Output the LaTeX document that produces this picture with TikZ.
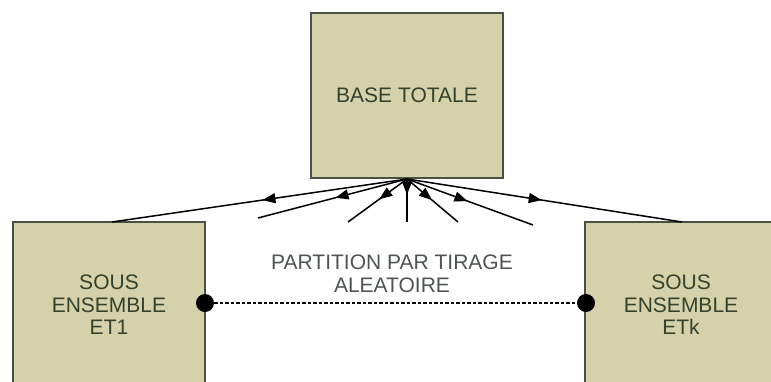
\documentclass[tikz,border=0pt]{standalone}
\usepackage{fontspec}
\setmainfont{Liberation Sans}
\usetikzlibrary{arrows.meta,decorations.markings}
\definecolor{boxfill}{RGB}{213,210,171}
\definecolor{boxline}{RGB}{75,80,68}
\definecolor{boxtext}{RGB}{52,66,44}
\definecolor{notetext}{RGB}{78,84,82}
\tikzset{
  setbox/.style={draw=boxline, line width=2pt, fill=boxfill, text=boxtext,
    align=center, font=\fontsize{21}{22.5}\selectfont, inner sep=0pt},
  fanline/.style={line width=1.5pt, postaction={decorate},
    decoration={markings, mark=at position #1 with {\arrow{Triangle[length=13pt,width=10pt]}}}},
  joint/.style={circle, fill=black, minimum size=18pt, inner sep=0pt},
  linkline/.style={line width=1.2pt, dash pattern=on 3.5pt off 2pt},
}
\begin{document}
\begin{tikzpicture}[x=1pt,y=-1pt]
  \useasboundingbox (0,0) rectangle (771,381);
  \clip (0,0) rectangle (771,381);

  % the three sets
  \node[setbox, minimum width=192pt, minimum height=165pt] (base) at (407,95.5) {BASE TOTALE};
  \node[setbox, minimum width=192pt, minimum height=166pt] (et1) at (109,305) {SOUS\\ENSEMBLE\\ET1};
  \node[setbox, minimum width=192pt, minimum height=166pt] (etk) at (681,305) {SOUS\\ENSEMBLE\\ETk};

  % free ends of the fan
  \coordinate (f1) at (112,222);
  \coordinate (f2) at (258,218);
  \coordinate (f3) at (348,222);
  \coordinate (f4) at (407,222);
  \coordinate (f5) at (458,222);
  \coordinate (f6) at (533,225);
  \coordinate (f7) at (682,222);

  \draw[fanline=0.49] (base.south) -- (f1);
  \draw[fanline=0.48] (base.south) -- (f2);
  \draw[fanline=0.47] (base.south) -- (f3);
  \draw[fanline=0.36] (base.south) -- (f4);
  \draw[fanline=0.49] (base.south) -- (f5);
  \draw[fanline=0.48] (base.south) -- (f6);
  \draw[fanline=0.49] (base.south) -- (f7);

  % label of the partition
  \node[text=notetext, align=center, font=\fontsize{21}{22.5}\selectfont] (note) at (392,274)
    {PARTITION PAR TIRAGE\\ALEATOIRE};

  % link between the subsets
  \node[joint] (d1) at (205,303) {};
  \node[joint] (d2) at (586,303) {};
  \draw[linkline] (d1) -- (d2);
\end{tikzpicture}
\end{document}
